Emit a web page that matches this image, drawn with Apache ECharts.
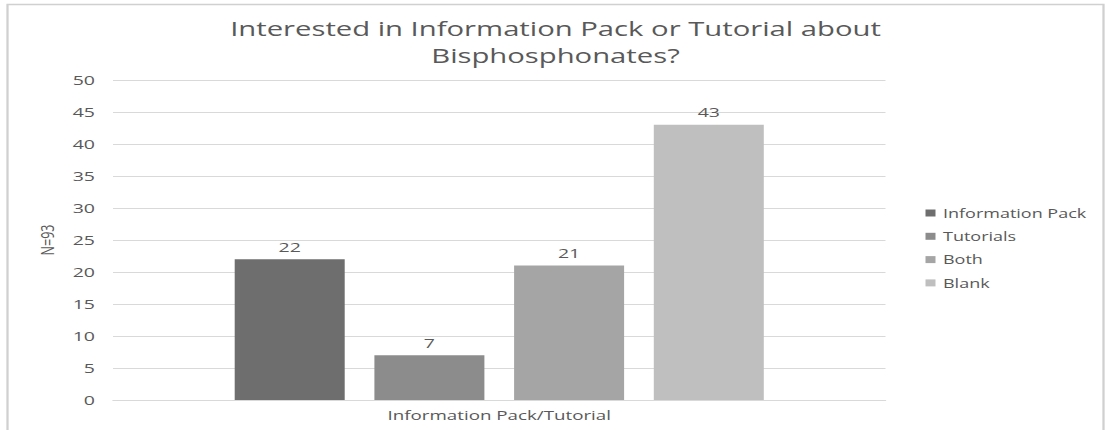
<!DOCTYPE html>
<html>
<head>
<meta charset="utf-8">
<script src="https://cdn.jsdelivr.net/npm/echarts@6/dist/echarts.min.js"></script>
<style>
  html, body { margin: 0; padding: 0; background: #ffffff; overflow: hidden; }
  #frame { width: 1105px; height: 430px; overflow: hidden; }
  /* The chart is laid out narrower and widened horizontally, giving the wide lettering */
  #chart { height: 430px; transform-origin: 0 0; }
</style>
</head>
<body>
<div id="frame"><div id="chart"></div></div>
<script>
// Survey responses (N=93)
const categories = ['Information Pack/Tutorial'];
const seriesNames = ['Information Pack', 'Tutorials', 'Both', 'Blank'];
const seriesValues = [[22], [7], [21], [43]];
const seriesColors = ['#6e6e6e', '#8c8c8c', '#a5a5a5', '#bfbfbf'];
const yTicks = { min: 0, max: 50, interval: 5 };

const STRETCH = 1.5;
const PAGE_W = 1105;
const W = PAGE_W / STRETCH;
const sx = v => v / STRETCH;   // page x -> chart x

const el = document.getElementById('chart');
el.style.width = W + 'px';
el.style.transform = 'scaleX(' + STRETCH + ')';

const font = '"Open Sans", "DejaVu Sans", sans-serif';
const textColor = '#595959';

const chart = echarts.init(el, null, { renderer: 'svg' });

const series = seriesNames.map((name, i) => ({
  name: name,
  type: 'bar',
  data: seriesValues[i],
  barWidth: sx(110),
  barGap: '27%',
  itemStyle: { color: seriesColors[i] },
  label: {
    show: true,
    position: 'top',
    distance: 6,
    color: textColor,
    fontFamily: font,
    fontSize: 13
  }
}));

chart.setOption({
  animation: false,
  backgroundColor: '#ffffff',
  graphic: [{
    type: 'rect',
    shape: { x: sx(7.5), y: 4.5, width: sx(1096), height: 440 },
    style: { fill: 'none', stroke: '#d0d0d0', lineWidth: 1.5 },
    silent: true,
    z: -1
  }],
  title: {
    text: 'Interested in Information Pack or Tutorial about\nBisphosphonates?',
    left: sx(548),
    textAlign: 'center',
    top: 10,
    textStyle: {
      fontFamily: font,
      fontSize: 19.5,
      fontWeight: 'normal',
      color: textColor,
      lineHeight: 27
    }
  },
  legend: {
    orient: 'vertical',
    left: sx(918),
    top: 202,
    itemWidth: sx(10),
    itemHeight: 7,
    itemGap: 11.3,
    icon: 'rect',
    data: seriesNames,
    textStyle: { fontFamily: font, fontSize: 12, color: textColor }
  },
  grid: { left: sx(113), right: W - sx(885), top: 80, bottom: 30 },
  xAxis: {
    type: 'category',
    data: categories,
    axisLine: { show: true, lineStyle: { color: '#d9d9d9', width: 1 } },
    axisTick: { show: false },
    axisLabel: { color: textColor, fontFamily: font, fontSize: 12.5, margin: 9 }
  },
  yAxis: {
    type: 'value',
    min: yTicks.min,
    max: yTicks.max,
    interval: yTicks.interval,
    name: 'N=93',
    nameLocation: 'middle',
    nameGap: sx(113) - sx(53) - 5,
    nameRotate: 90,
    nameTextStyle: { color: textColor, fontFamily: font, fontSize: 12.5 },
    axisLine: { show: false },
    axisTick: { show: false },
    splitLine: { lineStyle: { color: '#d9d9d9', width: 1 } },
    axisLabel: { color: textColor, fontFamily: font, fontSize: 13, margin: sx(113) - sx(95) }
  },
  series: series
});
</script>
</body>
</html>
